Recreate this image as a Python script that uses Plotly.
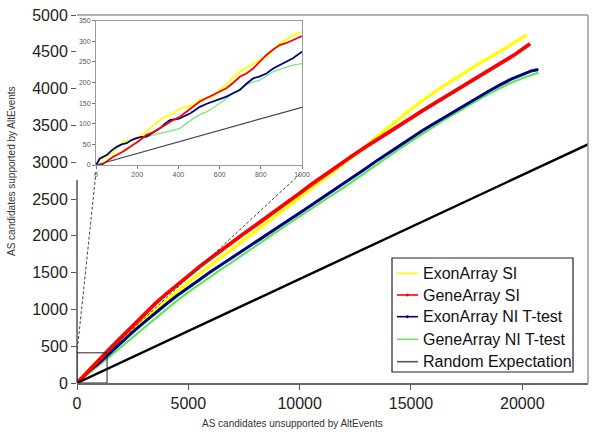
import plotly.graph_objects as go

# ---------------- data ----------------
series_names = ["ExonArray SI", "GeneArray SI", "ExonArray NI T-test",
                "GeneArray NI T-test", "Random Expectation"]
series_colors = ["#FFFF00", "#FF0000", "#000080", "#5CE65C", "#000000"]

# main panel
exon_si_x = [0, 500, 1000, 1500, 2000, 2500, 3000, 3500, 4000, 4500, 5000, 5500, 6000, 6500,
             7000, 7500, 8000, 8500, 9000, 9500, 10000, 10500, 11000, 11500, 12000, 12500,
             13000, 13500, 14000, 14500, 15000, 15500, 16000, 16500, 17000, 17500, 18000,
             18500, 19000, 19600, 20200]
exon_si_y = [0, 165, 325, 458, 600, 735, 860, 990, 1110, 1245, 1370, 1480, 1600, 1712,
             1830, 1948, 2060, 2172, 2290, 2400, 2520, 2640, 2752, 2868, 2990, 3105,
             3225, 3355, 3480, 3605, 3720, 3832, 3940, 4045, 4140, 4240, 4330, 4422,
             4505, 4620, 4729]

gene_si_x = [0, 500, 1000, 1500, 2000, 2500, 3000, 3500, 4000, 4500, 5000, 5500, 6000, 6500,
             7000, 7500, 8000, 8500, 9000, 9500, 10000, 10500, 11000, 11500, 12000, 12500,
             13000, 13500, 14000, 14500, 15000, 15500, 16000, 16500, 17000, 17500, 18000,
             18500, 19000, 19700, 20350]
gene_si_y = [0, 150, 315, 475, 625, 780, 935, 1075, 1208, 1335, 1458, 1578, 1695, 1810,
             1922, 2030, 2138, 2244, 2356, 2464, 2577, 2692, 2800, 2910, 3015, 3115,
             3215, 3315, 3410, 3508, 3600, 3698, 3790, 3880, 3975, 4070, 4160, 4255,
             4345, 4470, 4610]

exon_ni_x = [0, 500, 1000, 1500, 2000, 2500, 3000, 3500, 4000, 4500, 5000, 5500, 6000, 6500,
             7000, 7500, 8000, 8500, 9000, 9500, 10000, 10500, 11000, 11500, 12000, 12500,
             13000, 13500, 14000, 14500, 15000, 15500, 16000, 16500, 17000, 17500, 18000,
             18500, 19000, 19500, 20000, 20400, 20720]
exon_ni_y = [0, 152, 275, 418, 555, 692, 820, 948, 1070, 1188, 1300, 1402, 1510, 1612,
             1710, 1808, 1910, 2012, 2110, 2212, 2310, 2412, 2510, 2606, 2710, 2818,
             2920, 3028, 3130, 3232, 3330, 3428, 3520, 3612, 3700, 3792, 3880, 3968,
             4050, 4128, 4190, 4240, 4260]

gene_ni_x = [0, 500, 1000, 1500, 2000, 2500, 3000, 3500, 4000, 4500, 5000, 5500, 6000, 6500,
             7000, 7500, 8000, 8500, 9000, 9500, 10000, 10500, 11000, 11500, 12000, 12500,
             13000, 13500, 14000, 14500, 15000, 15500, 16000, 16500, 17000, 17500, 18000,
             18500, 19000, 19500, 20000, 20720]
gene_ni_y = [0, 118, 247, 368, 495, 625, 750, 878, 1000, 1122, 1235, 1342, 1445, 1550,
             1650, 1755, 1855, 1960, 2060, 2166, 2265, 2360, 2460, 2562, 2660, 2768,
             2870, 2978, 3080, 3186, 3285, 3386, 3480, 3576, 3665, 3758, 3845, 3930,
             4010, 4080, 4140, 4217]

random_x = [0, 23000]
random_y = [0, 3250]

# inset panel (first 1000 unsupported candidates)
in_exon_si_x = [0, 19, 50, 84, 110, 132, 165, 197, 220, 245, 280, 310, 340, 375, 407, 440, 472,
                504, 535, 569, 600, 633, 665, 698, 730, 763, 795, 827, 860, 892, 925, 956, 1000]
in_exon_si_y = [0, 12, 20, 32, 44, 57, 60, 65, 72, 81, 96, 109, 118, 125, 137, 141, 145,
                158, 163, 166, 181, 194, 212, 226, 236, 246, 255, 263, 280, 295, 305, 315, 323]

in_gene_si_x = [0, 27, 55, 84, 125, 165, 205, 245, 280, 310, 345, 375, 407, 439, 470, 504, 535,
                569, 600, 633, 665, 698, 730, 763, 795, 827, 860, 892, 925, 956, 1000]
in_gene_si_y = [0, 0, 10, 20, 31, 44, 57, 73, 80, 89, 100, 109, 117, 129, 141, 154, 162,
                170, 179, 186, 199, 214, 222, 234, 251, 267, 280, 291, 296, 303, 313]

in_exon_ni_x = [0, 19, 52, 75, 100, 125, 149, 175, 197, 220, 245, 280, 310, 335, 359, 385, 407,
                430, 456, 480, 504, 535, 569, 600, 633, 665, 698, 730, 763, 795, 827, 860, 892,
                925, 956, 1000]
in_exon_ni_y = [0, 16, 24, 35, 44, 50, 53, 61, 65, 68, 69, 80, 89, 100, 109, 111, 113,
                119, 125, 133, 141, 148, 154, 161, 166, 174, 182, 197, 210, 215, 222, 234, 242,
                251, 259, 275]

in_gene_ni_x = [0, 36, 60, 84, 115, 149, 180, 213, 245, 278, 310, 343, 375, 407, 440, 472, 505,
                536, 570, 601, 635, 666, 698, 730, 763, 795, 827, 859, 892, 924, 960, 1000]
in_gene_ni_y = [0, 4, 11, 20, 28, 36, 49, 61, 68, 73, 76, 81, 84, 89, 101, 113, 122,
                129, 139, 149, 162, 174, 184, 194, 201, 206, 216, 226, 232, 238, 243, 246]

in_random_x = [0, 1000]
in_random_y = [0, 140]

main_x_ticks = [0, 5000, 10000, 15000, 20000]
main_x_labels = ["0", "5000", "10000", "15000", "20000"]
main_y_ticks = [0, 500, 1000, 1500, 2000, 2500, 3000, 3500, 4000, 4500, 5000]
main_y_labels = [str(v) for v in main_y_ticks]
inset_x_ticks = [0, 200, 400, 600, 800, 1000]
inset_y_ticks = [0, 50, 100, 150, 200, 250, 300, 350]

# ---------------- figure ----------------
FONT = "Arial, Liberation Sans, sans-serif"
fig = go.Figure()

main_sets = [(gene_ni_x, gene_ni_y, 3), (exon_si_x, exon_si_y, 0),
             (exon_ni_x, exon_ni_y, 2), (gene_si_x, gene_si_y, 1),
             (random_x, random_y, 4)]
main_widths = {0: 3.2, 1: 3.8, 2: 3.0, 3: 2.2, 4: 2.4}
for xs, ys, k in main_sets:
    fig.add_trace(go.Scatter(x=xs, y=ys, mode="lines", name=series_names[k],
                             line=dict(color=series_colors[k], width=main_widths[k]),
                             showlegend=False, hoverinfo="skip", xaxis="x", yaxis="y"))

inset_sets = [(in_gene_ni_x, in_gene_ni_y, 3), (in_exon_si_x, in_exon_si_y, 0),
              (in_exon_ni_x, in_exon_ni_y, 2), (in_gene_si_x, in_gene_si_y, 1),
              (in_random_x, in_random_y, 4)]
inset_widths = {0: 1.8, 1: 1.8, 2: 1.8, 3: 1.3, 4: 1.2}
inset_colors = {0: "#FFFF00", 1: "#FF0000", 2: "#000080", 3: "#7FE67F", 4: "#444444"}
for xs, ys, k in inset_sets:
    fig.add_trace(go.Scatter(x=xs, y=ys, mode="lines", name=series_names[k],
                             line=dict(color=inset_colors[k], width=inset_widths[k]),
                             showlegend=False, hoverinfo="skip", xaxis="x2", yaxis="y2"))

W, H = 600, 434
ML, MR, MT, MB = 77, 12, 15, 51
PW, PH = W - ML - MR, H - MT - MB


def px(xp):
    return (xp - ML) / PW


def py(yp):
    return (H - MB - yp) / PH


fig.update_layout(
    width=W, height=H,
    margin=dict(l=ML, r=MR, t=MT, b=MB, autoexpand=False),
    paper_bgcolor="white", plot_bgcolor="rgba(0,0,0,0)",
    showlegend=False,
    font=dict(family=FONT, color="#222"),
    xaxis=dict(range=[0, 22950], domain=[0, 1], tickvals=main_x_ticks, ticktext=main_x_labels,
               ticks="outside", ticklen=5, tickcolor="#555", showgrid=False, automargin=False,
               zeroline=False, showline=True, linecolor="#666", linewidth=1.5,
               tickfont=dict(size=16, color="#222", family=FONT)),
    yaxis=dict(range=[0, 5000], domain=[0, 1], tickvals=main_y_ticks, ticktext=main_y_labels,
               ticks="outside", ticklen=5, tickcolor="#555", showgrid=False, automargin=False,
               zeroline=False, showline=False,
               tickfont=dict(size=16, color="#222", family=FONT)),
    xaxis2=dict(range=[0, 1000], domain=[px(96), px(302)], anchor="y2",
                tickvals=inset_x_ticks, ticks="outside", ticklen=3, tickcolor="#777",
                showgrid=False, zeroline=False, showline=True, linecolor="#999",
                linewidth=1, mirror=True, automargin=False,
                tickfont=dict(size=7, color="#555", family=FONT)),
    yaxis2=dict(range=[0, 350], domain=[py(165), py(20.7)], anchor="x2",
                tickvals=inset_y_ticks, ticks="outside", ticklen=3, tickcolor="#777",
                showgrid=False, zeroline=False, showline=True, linecolor="#999",
                linewidth=1, mirror=True, automargin=False,
                tickfont=dict(size=7, color="#555", family=FONT)),
)

shapes = []
# main frame: top and right borders
shapes.append(dict(type="line", xref="paper", yref="paper", x0=0, x1=1, y0=1, y1=1,
                   line=dict(color="#999", width=1.5)))
shapes.append(dict(type="line", xref="paper", yref="paper", x0=1, x1=1, y0=0, y1=1,
                   line=dict(color="#999", width=1.5)))
# main left axis (interrupted by the inset)
shapes.append(dict(type="line", xref="paper", yref="paper", x0=0, x1=0, y0=0, y1=py(180),
                   line=dict(color="#555", width=1.5)))
# zoom box in main panel
shapes.append(dict(type="rect", xref="x", yref="y", x0=0, x1=1350, y0=0, y1=410,
                   line=dict(color="#222", width=1)))
# dashed connectors
shapes.append(dict(type="line", xref="paper", yref="paper", x0=px(96), y0=py(172),
                   x1=0, y1=410 / 5000, line=dict(color="#444", width=1, dash="3px,2px")))
shapes.append(dict(type="line", xref="paper", yref="paper", x0=px(300), y0=py(174),
                   x1=1350 / 22950, y1=410 / 5000, line=dict(color="#444", width=1, dash="3px,2px")))

# manual legend
shapes.append(dict(type="rect", xref="paper", yref="paper", x0=px(392), x1=px(573),
                   y0=py(372), y1=py(258), line=dict(color="#222", width=1.2),
                   fillcolor="white", layer="above"))
row_y = [273.3, 295, 316.7, 339.3, 361.7]
annotations = []
for i, name in enumerate(series_names):
    shapes.append(dict(type="line", xref="paper", yref="paper", x0=px(397), x1=px(418),
                       y0=py(row_y[i]), y1=py(row_y[i]),
                       line=dict(color=series_colors[i] if i != 4 else "#555", width=1.6),
                       layer="above"))
    if i in (1, 2):
        shapes.append(dict(type="circle", xref="paper", yref="paper",
                           x0=px(406.3), x1=px(408.7), y0=py(row_y[i] + 1.2), y1=py(row_y[i] - 1.2),
                           line=dict(color=series_colors[i], width=0.5),
                           fillcolor=series_colors[i], layer="above"))
    annotations.append(dict(text=name, xref="paper", yref="paper", x=px(421), y=py(row_y[i]),
                            xanchor="left", yanchor="middle", showarrow=False,
                            font=dict(size=16, color="#111", family=FONT)))

# axis titles
annotations.append(dict(text="AS candidates unsupported by AltEvents", xref="paper", yref="paper",
                        x=px(292), y=py(424), xanchor="center", yanchor="middle",
                        showarrow=False, font=dict(size=10, color="#333", family=FONT)))
annotations.append(dict(text="AS candidates supported by AltEvents", xref="paper", yref="paper",
                        x=px(11), y=py(171), xanchor="center", yanchor="middle", textangle=-90,
                        showarrow=False, font=dict(size=10, color="#333", family=FONT)))

fig.update_layout(shapes=shapes, annotations=annotations)
fig.write_html("out.html", config={"displayModeBar": False},
               post_script="document.body.style.margin='0';document.body.style.overflow='hidden';")
